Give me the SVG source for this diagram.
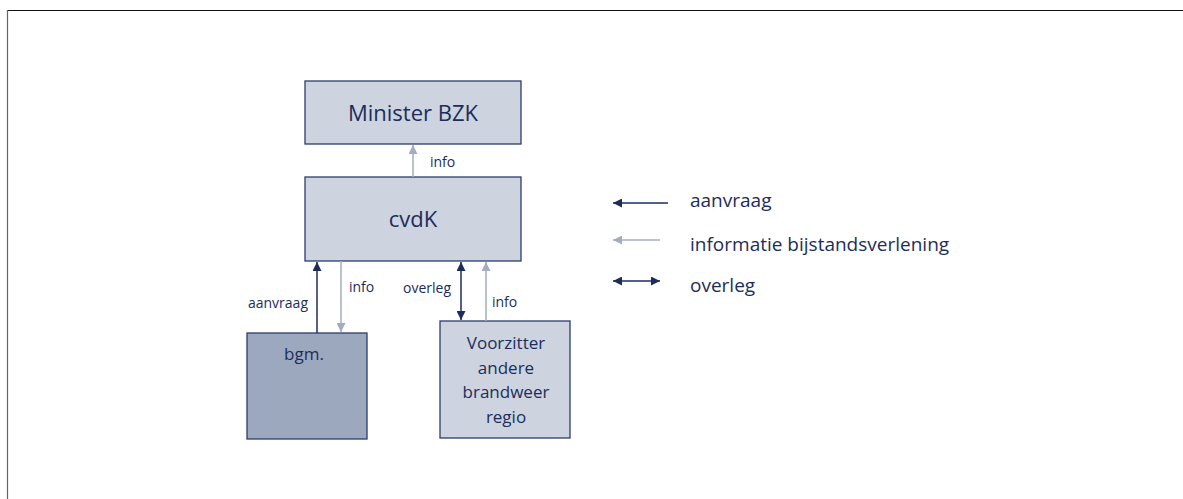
<svg xmlns="http://www.w3.org/2000/svg" width="1183" height="499" viewBox="0 0 1183 499">
<defs>
<style>
text{font-family:"Open Sans","Liberation Sans",sans-serif;fill:#1c2d5c}
.box{fill:#cdd3df;stroke:#2b3d6b;stroke-width:1.3}
.dark{fill:#9ca8bd}
.big{font-size:22px}
.mid{font-size:17px}
.sm{font-size:14px}
.leg{font-size:19px}
.req{stroke:#1c2d5c;stroke-width:1.5;fill:none}
.inf{stroke:#a3acc0;stroke-width:1.5;fill:none}
</style>
<marker id="ad" viewBox="0 0 10 10" refX="10" refY="5" markerWidth="9" markerHeight="9" markerUnits="userSpaceOnUse" orient="auto-start-reverse"><path d="M0,0 L10,5 L0,10 Z" fill="#1c2d5c"/></marker>
<marker id="al" viewBox="0 0 10 10" refX="10" refY="5" markerWidth="9" markerHeight="9" markerUnits="userSpaceOnUse" orient="auto-start-reverse"><path d="M0,0 L10,5 L0,10 Z" fill="#a3acc0"/></marker>
</defs>
<rect width="1183" height="499" fill="#fff"/>
<line x1="7" y1="10.5" x2="1183" y2="10.5" stroke="#111" stroke-width="1"/>
<line x1="7.5" y1="10" x2="7.5" y2="499" stroke="#666" stroke-width="1.2"/>

<g id="minister">
<rect class="box" x="305" y="81" width="216" height="63"/>
<text class="big" x="413" y="121" text-anchor="middle">Minister BZK</text>
</g>
<g id="cvdk">
<rect class="box" x="305" y="177" width="216" height="84"/>
<text class="big" x="413" y="227" text-anchor="middle">cvdK</text>
</g>
<g id="bgm">
<rect class="box dark" x="247" y="333" width="120" height="106"/>
<text class="mid" x="304" y="360" text-anchor="middle">bgm.</text>
</g>
<g id="voorzitter">
<rect class="box" x="440" y="321" width="130" height="117"/>
<text class="mid" text-anchor="middle"><tspan x="506" y="349">Voorzitter</tspan><tspan x="506" y="373.5">andere</tspan><tspan x="506" y="398">brandweer</tspan><tspan x="506" y="422.5">regio</tspan></text>
</g>

<g id="connectors">
<line class="inf" x1="413" y1="177" x2="413" y2="145" marker-end="url(#al)"/>
<text class="sm" x="430" y="167">info</text>
<line class="req" x1="317" y1="333" x2="317" y2="262" marker-end="url(#ad)"/>
<text class="sm" x="308" y="308" text-anchor="end">aanvraag</text>
<line class="inf" x1="341" y1="261" x2="341" y2="332" marker-end="url(#al)"/>
<text class="sm" x="349" y="292">info</text>
<line class="req" x1="461" y1="262" x2="461" y2="320" marker-start="url(#ad)" marker-end="url(#ad)"/>
<text class="sm" x="451" y="293" text-anchor="end">overleg</text>
<line class="inf" x1="486" y1="321" x2="486" y2="262" marker-end="url(#al)"/>
<text class="sm" x="492" y="307">info</text>
</g>

<g id="legend">
<line class="req" x1="668" y1="203" x2="613" y2="203" marker-end="url(#ad)"/>
<text class="leg" x="690" y="207">aanvraag</text>
<line class="inf" x1="660" y1="240" x2="613" y2="240" marker-end="url(#al)"/>
<text class="leg" x="690" y="251">informatie bijstandsverlening</text>
<line class="req" x1="613" y1="281" x2="660" y2="281" marker-start="url(#ad)" marker-end="url(#ad)"/>
<text class="leg" x="690" y="292">overleg</text>
</g>
</svg>
